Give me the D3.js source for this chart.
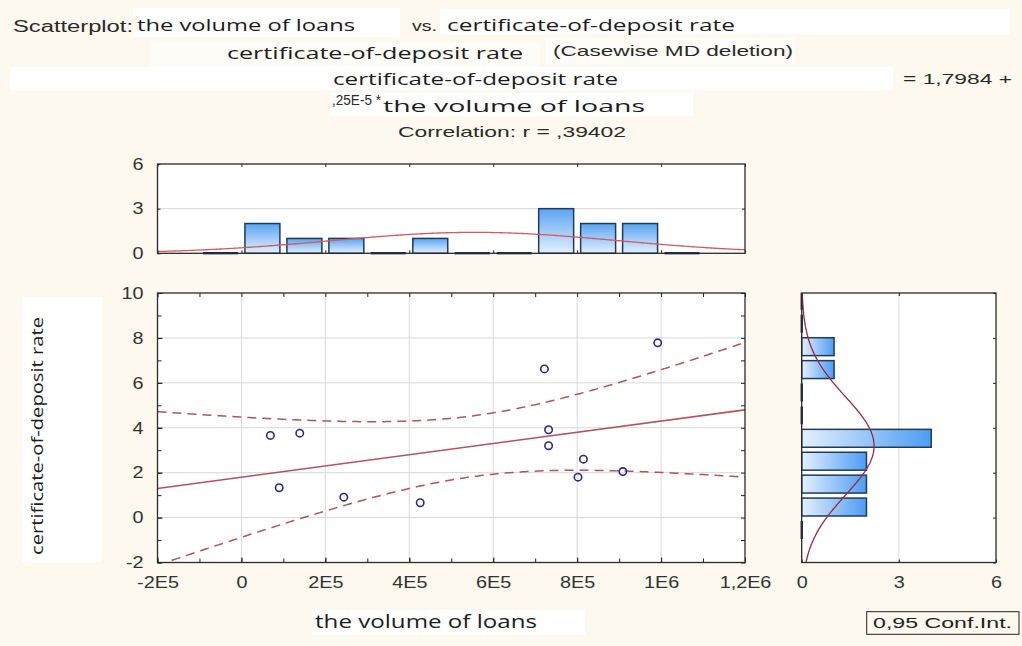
<!DOCTYPE html>
<html>
<head>
<meta charset="utf-8">
<script src="https://cdn.jsdelivr.net/npm/d3@7"></script>
<style>
  html, body { margin: 0; padding: 0; background: #fdf9ee; }
  svg { display: block; }
</style>
</head>
<body>
<svg id="chart" width="1022" height="646"></svg>
<script>
// ---- Cases (one point per case) ----
const loanVolume  = [69000, 90000, 139000, 244000, 426000, 722000, 732000, 732000, 802000, 815000, 909000, 992000];
const depositRate = [3.66, 1.33, 3.76, 0.91, 0.66, 6.62, 3.91, 3.20, 1.80, 2.60, 2.05, 7.78];

// ---- Variable names ----
const xName = "the volume of loans";
const yName = "certificate-of-deposit rate";

// ---- Fitted line and statistics ----
const intercept = 1.7984;
const slope = 0.25e-5;
const correlation = 0.39402;
const confLevel = 0.95;
const tCrit = 2.228;            // Student t, two-sided 95 %, df = 10

// ---- Marginal histogram of the loans (top) ----
const loanBinStarts = [-1e5, 0, 1e5, 2e5, 3e5, 4e5, 5e5, 6e5, 7e5, 8e5, 9e5, 1e6];
const loanBinCounts = [0, 2, 1, 1, 0, 1, 0, 0, 3, 2, 2, 0];
const loanBinWidth = 1e5;

// ---- Marginal histogram of the rate (right) ----
const rateBinStarts = [-1.06, -0.04, 0.98, 2.00, 3.02, 4.04, 5.06, 6.08, 7.10, 8.12, 9.14];
const rateBinCounts = [0, 2, 2, 2, 4, 0, 0, 1, 1, 0, 0];
const rateBinWidth = 1.02;

// ---- Axis ticks ----
const xTickValues = [-2e5, 0, 2e5, 4e5, 6e5, 8e5, 1e6, 1.2e6];
const xTickLabels = ["-2E5", "0", "2E5", "4E5", "6E5", "8E5", "1E6", "1,2E6"];
const yTickValues = [-2, 0, 2, 4, 6, 8, 10];
const yTickLabels = ["-2", "0", "2", "4", "6", "8", "10"];
const countTickValues = [0, 3, 6];
const countTickLabels = ["0", "3", "6"];

// ================================================================
const svg = d3.select("#chart");
const LARGE = "'Open Sans', 'DejaVu Sans', sans-serif";
const SMALL = "'Liberation Sans', Arial, sans-serif";
const comma = s => s.replace(".", ",");

const plot = { left: 157.5, right: 745, top: 293, bottom: 562.5 };
const topPanel = { top: 164, bottom: 253.3 };
const sidePanel = { left: 801.7, right: 996 };

const x = d3.scaleLinear().domain([-2e5, 1.2e6]).range([plot.left, plot.right]);
const y = d3.scaleLinear().domain([-2, 10]).range([plot.bottom, plot.top]);
const yCount = d3.scaleLinear().domain([0, 6]).range([topPanel.bottom, topPanel.top]);
const xCount = d3.scaleLinear().domain([0, 6]).range([sidePanel.left, sidePanel.right]);

// ---- defs: bar gradients and clip regions ----
const defs = svg.append("defs");
const gv = defs.append("linearGradient").attr("id", "barV")
  .attr("x1", 0).attr("y1", 0).attr("x2", 0).attr("y2", 1);
gv.append("stop").attr("offset", "0%").attr("stop-color", "#5ba4f3");
gv.append("stop").attr("offset", "100%").attr("stop-color", "#e4f0fd");
const gh = defs.append("linearGradient").attr("id", "barH")
  .attr("x1", 0).attr("y1", 0).attr("x2", 1).attr("y2", 0);
gh.append("stop").attr("offset", "0%").attr("stop-color", "#e4f0fd");
gh.append("stop").attr("offset", "100%").attr("stop-color", "#4d9cf2");

function clip(id, x0, y0, x1, y1) {
  defs.append("clipPath").attr("id", id).append("rect")
    .attr("x", x0).attr("y", y0).attr("width", x1 - x0).attr("height", y1 - y0);
}
clip("clipMain", plot.left, plot.top, plot.right, plot.bottom);
clip("clipTop", plot.left, topPanel.top, plot.right, topPanel.bottom + 1.5);
clip("clipSide", sidePanel.left - 1.5, plot.top, sidePanel.right, plot.bottom);

// ---- text helpers ----
function txt(parent, s, px, py, o) {
  const t = parent.append("text").attr("x", px).attr("y", py).text(s)
    .attr("font-family", o.family).attr("font-size", o.size)
    .attr("fill", o.fill || "#1c1c1c").attr("text-anchor", o.anchor || "start");
  if (o.length) t.attr("textLength", o.length).attr("lengthAdjust", "spacingAndGlyphs");
  return t;
}
function stretch(sel, k) {
  sel.each(function () {
    const w = this.getComputedTextLength();
    if (w > 0) d3.select(this).attr("textLength", w * k).attr("lengthAdjust", "spacingAndGlyphs");
  });
}
function whiteBox(x0, y0, x1, y1, op = 1) {
  svg.append("rect").attr("x", x0).attr("y", y0).attr("width", x1 - x0).attr("height", y1 - y0)
    .attr("fill", "#ffffff").attr("fill-opacity", op);
}

// ---- header ----
whiteBox(133, 8, 400, 37);
whiteBox(440, 9, 1010, 34);
whiteBox(150, 42, 540, 67, 0.5);
whiteBox(545, 38, 795, 64, 0.5);
whiteBox(10, 67, 893, 90);
whiteBox(330, 93, 693, 116);

const head = svg.append("g");
txt(head, "Scatterplot:", 13, 32, { family: SMALL, size: 16, fill: "#2a2a2a", length: 120 });
txt(head, xName, 137, 31, { family: LARGE, size: 17, length: 218 });
txt(head, "vs.", 412, 31, { family: SMALL, size: 15, fill: "#2a2a2a", length: 25 });
txt(head, yName, 447, 31, { family: LARGE, size: 17, length: 288 });
txt(head, yName, 227, 59, { family: LARGE, size: 17, length: 296 });
txt(head, "(Casewise MD deletion)", 553, 56, { family: SMALL, size: 15, fill: "#2a2a2a", length: 240 });
txt(head, yName, 333, 85, { family: LARGE, size: 17, length: 285 });
txt(head, "= " + comma(intercept.toFixed(4)) + " +", 903, 84, { family: SMALL, size: 15, fill: "#2a2a2a", length: 109 });
txt(head, (slope * 1e5).toFixed(2).replace("0.", ",") + "E-5 *", 332, 105, { family: SMALL, size: 15, fill: "#2a2a2a", length: 49 });
txt(head, xName, 383, 112, { family: LARGE, size: 17, length: 262 });
txt(head, "Correlation: r = " + comma(correlation.toFixed(5)).replace(/^0/, ""), 398, 137,
    { family: SMALL, size: 15, fill: "#2a2a2a", length: 228 });

// ---- axis titles ----
whiteBox(22, 297, 102, 562);
txt(svg, yName, 0, 0, { family: LARGE, size: 16, anchor: "middle", length: 238 })
  .attr("transform", "translate(43,436) rotate(-90)");
whiteBox(312, 610, 585, 635);
txt(svg, xName, 315, 628, { family: LARGE, size: 19, length: 222 });

// ---- legend ----
svg.append("rect").attr("x", 866.7).attr("y", 611.7).attr("width", 152.3).attr("height", 22.6)
  .attr("fill", "none").attr("stroke", "#222").attr("stroke-width", 1);
txt(svg, comma(confLevel.toFixed(2)) + " Conf.Int.", 873, 628, { family: SMALL, size: 15.5, fill: "#222", length: 139 });

// ---- panel backgrounds ----
svg.append("rect").attr("x", plot.left).attr("y", topPanel.top)
  .attr("width", plot.right - plot.left).attr("height", topPanel.bottom - topPanel.top).attr("fill", "#fff");
svg.append("rect").attr("x", plot.left).attr("y", plot.top)
  .attr("width", plot.right - plot.left).attr("height", plot.bottom - plot.top).attr("fill", "#fff");
svg.append("rect").attr("x", sidePanel.left).attr("y", plot.top)
  .attr("width", sidePanel.right - sidePanel.left).attr("height", plot.bottom - plot.top).attr("fill", "#fff");

// ---- grid lines ----
const grid = svg.append("g").attr("stroke", "#d9d9d9").attr("stroke-width", 1);
xTickValues.slice(1, -1).forEach(v => grid.append("line")
  .attr("x1", x(v)).attr("x2", x(v)).attr("y1", plot.top).attr("y2", plot.bottom));
yTickValues.slice(1, -1).forEach(v => grid.append("line")
  .attr("x1", plot.left).attr("x2", plot.right).attr("y1", y(v)).attr("y2", y(v)));
grid.append("line").attr("x1", plot.left).attr("x2", plot.right)
  .attr("y1", yCount(3)).attr("y2", yCount(3));
grid.append("line").attr("x1", xCount(3)).attr("x2", xCount(3))
  .attr("y1", plot.top).attr("y2", plot.bottom);

// ---- normal fits for the margins ----
const n = loanVolume.length;
const normPdf = (v, m, s) => Math.exp(-0.5 * ((v - m) / s) ** 2) / (s * Math.sqrt(2 * Math.PI));
const mx = d3.mean(loanVolume), sx = d3.deviation(loanVolume);
const my = d3.mean(depositRate), sy = d3.deviation(depositRate);

// ---- top histogram ----
const topG = svg.append("g").attr("clip-path", "url(#clipTop)");
loanBinStarts.forEach((b, i) => {
  const x0 = x(b) + 3.5, x1 = x(b + loanBinWidth) - 3.5, c = loanBinCounts[i];
  if (c > 0) {
    topG.append("rect").attr("x", x0).attr("y", yCount(c)).attr("width", x1 - x0)
      .attr("height", yCount(0) - yCount(c)).attr("fill", "url(#barV)")
      .attr("stroke", "#1f3b5c").attr("stroke-width", 1.5);
  } else {
    topG.append("line").attr("x1", x0).attr("x2", x1).attr("y1", yCount(0)).attr("y2", yCount(0))
      .attr("stroke", "#1f2d55").attr("stroke-width", 2.5);
  }
});
const xSamples = d3.range(-2e5, 1.2e6 + 1, 5e3);
topG.append("path")
  .datum(xSamples)
  .attr("fill", "none").attr("stroke", "#d2595e").attr("stroke-width", 1.3)
  .attr("d", d3.line().x(v => x(v)).y(v => yCount(n * loanBinWidth * normPdf(v, mx, sx))));

// ---- side histogram ----
const sideG = svg.append("g").attr("clip-path", "url(#clipSide)");
rateBinStarts.forEach((b, i) => {
  const y0 = y(b + rateBinWidth) + 2.5, y1 = y(b) - 2.5, c = rateBinCounts[i];
  if (c > 0) {
    sideG.append("rect").attr("x", xCount(0)).attr("y", y0).attr("width", xCount(c) - xCount(0))
      .attr("height", y1 - y0).attr("fill", "url(#barH)")
      .attr("stroke", "#1f3b5c").attr("stroke-width", 1.5);
  } else {
    sideG.append("line").attr("x1", xCount(0)).attr("x2", xCount(0)).attr("y1", y0).attr("y2", y1)
      .attr("stroke", "#1f2d55").attr("stroke-width", 2.5);
  }
});
const ySamples = d3.range(-2, 10.001, 0.05);
sideG.append("path")
  .datum(ySamples)
  .attr("fill", "none").attr("stroke", "#9b2747").attr("stroke-width", 1.3)
  .attr("d", d3.line().x(v => xCount(n * rateBinWidth * normPdf(v, my, sy))).y(v => y(v)));

// ---- regression line with confidence band ----
const fit = v => intercept + slope * v;
const sxx = d3.sum(loanVolume, v => (v - mx) ** 2);
const sse = d3.sum(loanVolume, (v, i) => (depositRate[i] - fit(v)) ** 2);
const se = Math.sqrt(sse / (n - 2));
const halfWidth = v => tCrit * se * Math.sqrt(1 / n + (v - mx) ** 2 / sxx);

const mainG = svg.append("g").attr("clip-path", "url(#clipMain)");
const bandColor = "#b2545a";
mainG.append("path").datum(xSamples)
  .attr("fill", "none").attr("stroke", bandColor).attr("stroke-width", 1.5).attr("stroke-dasharray", "9,6")
  .attr("d", d3.line().x(v => x(v)).y(v => y(fit(v) + halfWidth(v))));
mainG.append("path").datum(xSamples)
  .attr("fill", "none").attr("stroke", bandColor).attr("stroke-width", 1.5).attr("stroke-dasharray", "9,6")
  .attr("d", d3.line().x(v => x(v)).y(v => y(fit(v) - halfWidth(v))));
mainG.append("path").datum(x.domain())
  .attr("fill", "none").attr("stroke", bandColor).attr("stroke-width", 1.6)
  .attr("d", d3.line().x(v => x(v)).y(v => y(fit(v))));

// ---- scatter points ----
mainG.selectAll("circle.pt").data(loanVolume).join("circle")
  .attr("class", "pt")
  .attr("cx", v => x(v)).attr("cy", (v, i) => y(depositRate[i])).attr("r", 3.7)
  .attr("fill", "none").attr("stroke", "#2b2b7c").attr("stroke-width", 1.6);

// ---- axes and ticks ----
function styleAxis(g) {
  g.select(".domain").remove();
  g.selectAll(".tick line").attr("stroke", "#222").attr("stroke-width", 1);
  g.selectAll(".tick text").attr("font-family", SMALL).attr("font-size", 16.5).attr("fill", "#333");
  stretch(g.selectAll(".tick text"), 1.2);
}
const noLabel = () => "";
const minorX = d3.range(-2e5, 1.2e6 + 1, 1e5);
const minorY = d3.range(-2, 10.001, 1);

// main plot
svg.append("g").attr("transform", `translate(${plot.left},0)`)
  .call(d3.axisLeft(y).tickValues(minorY).tickSize(-4).tickFormat(noLabel)).call(styleAxis);
svg.append("g").attr("transform", `translate(${plot.left},0)`)
  .call(d3.axisLeft(y).tickValues(yTickValues).tickSize(-5).tickPadding(14)
    .tickFormat((d, i) => yTickLabels[i])).call(styleAxis);
svg.append("g").attr("transform", `translate(${plot.right},0)`)
  .call(d3.axisRight(y).tickValues(minorY).tickSize(-4).tickFormat(noLabel)).call(styleAxis);
svg.append("g").attr("transform", `translate(0,${plot.top})`)
  .call(d3.axisTop(x).tickValues(minorX).tickSize(-4).tickFormat(noLabel)).call(styleAxis);
svg.append("g").attr("transform", `translate(0,${plot.bottom})`)
  .call(d3.axisBottom(x).tickValues(minorX).tickSize(-4).tickFormat(noLabel)).call(styleAxis);
svg.append("g").attr("transform", `translate(0,${plot.bottom})`)
  .call(d3.axisBottom(x).tickValues(xTickValues).tickSize(-5).tickPadding(14)
    .tickFormat((d, i) => xTickLabels[i])).call(styleAxis);

// top histogram
svg.append("g").attr("transform", `translate(${plot.left},0)`)
  .call(d3.axisLeft(yCount).tickValues(countTickValues).tickSize(-3).tickPadding(14)
    .tickFormat((d, i) => countTickLabels[i])).call(styleAxis);
svg.append("g").attr("transform", `translate(${plot.right},0)`)
  .call(d3.axisRight(yCount).tickValues([3]).tickSize(-3).tickFormat(noLabel)).call(styleAxis);
svg.append("g").attr("transform", `translate(0,${topPanel.top})`)
  .call(d3.axisTop(x).tickValues(xTickValues).tickSize(-3).tickFormat(noLabel)).call(styleAxis);
svg.append("g").attr("transform", `translate(0,${topPanel.bottom})`)
  .call(d3.axisBottom(x).tickValues(xTickValues).tickSize(-3).tickFormat(noLabel)).call(styleAxis);

// side histogram
svg.append("g").attr("transform", `translate(0,${plot.bottom})`)
  .call(d3.axisBottom(xCount).tickValues(countTickValues).tickSize(-3).tickPadding(14)
    .tickFormat((d, i) => countTickLabels[i])).call(styleAxis);
svg.append("g").attr("transform", `translate(0,${plot.top})`)
  .call(d3.axisTop(xCount).tickValues([3]).tickSize(-3).tickFormat(noLabel)).call(styleAxis);
svg.append("g").attr("transform", `translate(${sidePanel.right},0)`)
  .call(d3.axisRight(y).tickValues(yTickValues).tickSize(-3).tickFormat(noLabel)).call(styleAxis);

// ---- frames ----
const frame = (x0, y0, x1, y1) => svg.append("rect")
  .attr("x", x0).attr("y", y0).attr("width", x1 - x0).attr("height", y1 - y0)
  .attr("fill", "none").attr("stroke", "#2a2a2a").attr("stroke-width", 1.3);
frame(plot.left, topPanel.top, plot.right, topPanel.bottom);
frame(plot.left, plot.top, plot.right, plot.bottom);
frame(sidePanel.left, plot.top, sidePanel.right, plot.bottom);
</script>
</body>
</html>
